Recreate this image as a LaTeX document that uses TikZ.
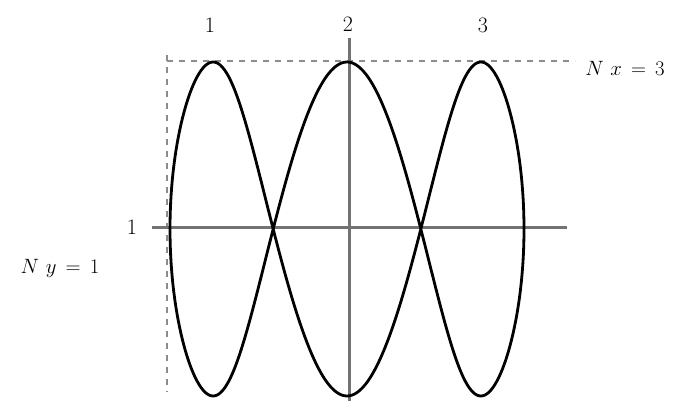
\documentclass[tikz,border=0pt]{standalone}
\begin{document}
\begin{tikzpicture}[x=1pt,y=-1pt,
  axisline/.style={draw=black!55,line width=3pt},
  curveline/.style={draw=black,line width=2.8pt,line join=round},
  guideline/.style={draw=black!45,line width=1.8pt,dash pattern=on 6pt off 6pt},
  lbl/.style={font=\fontsize{22}{26}\selectfont,inner sep=1pt},
  declare function={wx(\c)=\c*(0.834+0.166*\c*\c*\c*\c*\c*\c*\c*\c*\c*\c);}]
\useasboundingbox (0,0) rectangle (676,403);
% guides
\coordinate (gl1) at (167,55);
\coordinate (gl2) at (167,392);
\coordinate (gt1) at (167,61);
\coordinate (gt2) at (575,61);
\draw[guideline] (gl1) -- (gl2);
\draw[guideline] (gt1) -- (gt2);
% axes
\coordinate (hx1) at (152,227);
\coordinate (hx2) at (567,227);
\coordinate (vy1) at (349,38);
\coordinate (vy2) at (349,401);
\draw[axisline] (hx1) -- (hx2);
\draw[axisline] (vy1) -- (vy2);
% curve
\draw[curveline] plot[domain=0:360,samples=361,variable=\t,smooth]
  ({347+177*wx(cos(\t))},{229-167*sin(3*\t)}) -- cycle;
% labels
\node[lbl] (t1) at (210,25) {1};
\node[lbl] (t2) at (348,24) {2};
\node[lbl] (t3) at (483,25) {3};
\node[lbl] (l1) at (132,227) {1};
\node[lbl] (ny) at (60,268) {$N\ y\, =\, 1$};
\node[lbl] (nx) at (625,68) {$N\ x\, =\, 3$};
\end{tikzpicture}
\end{document}
